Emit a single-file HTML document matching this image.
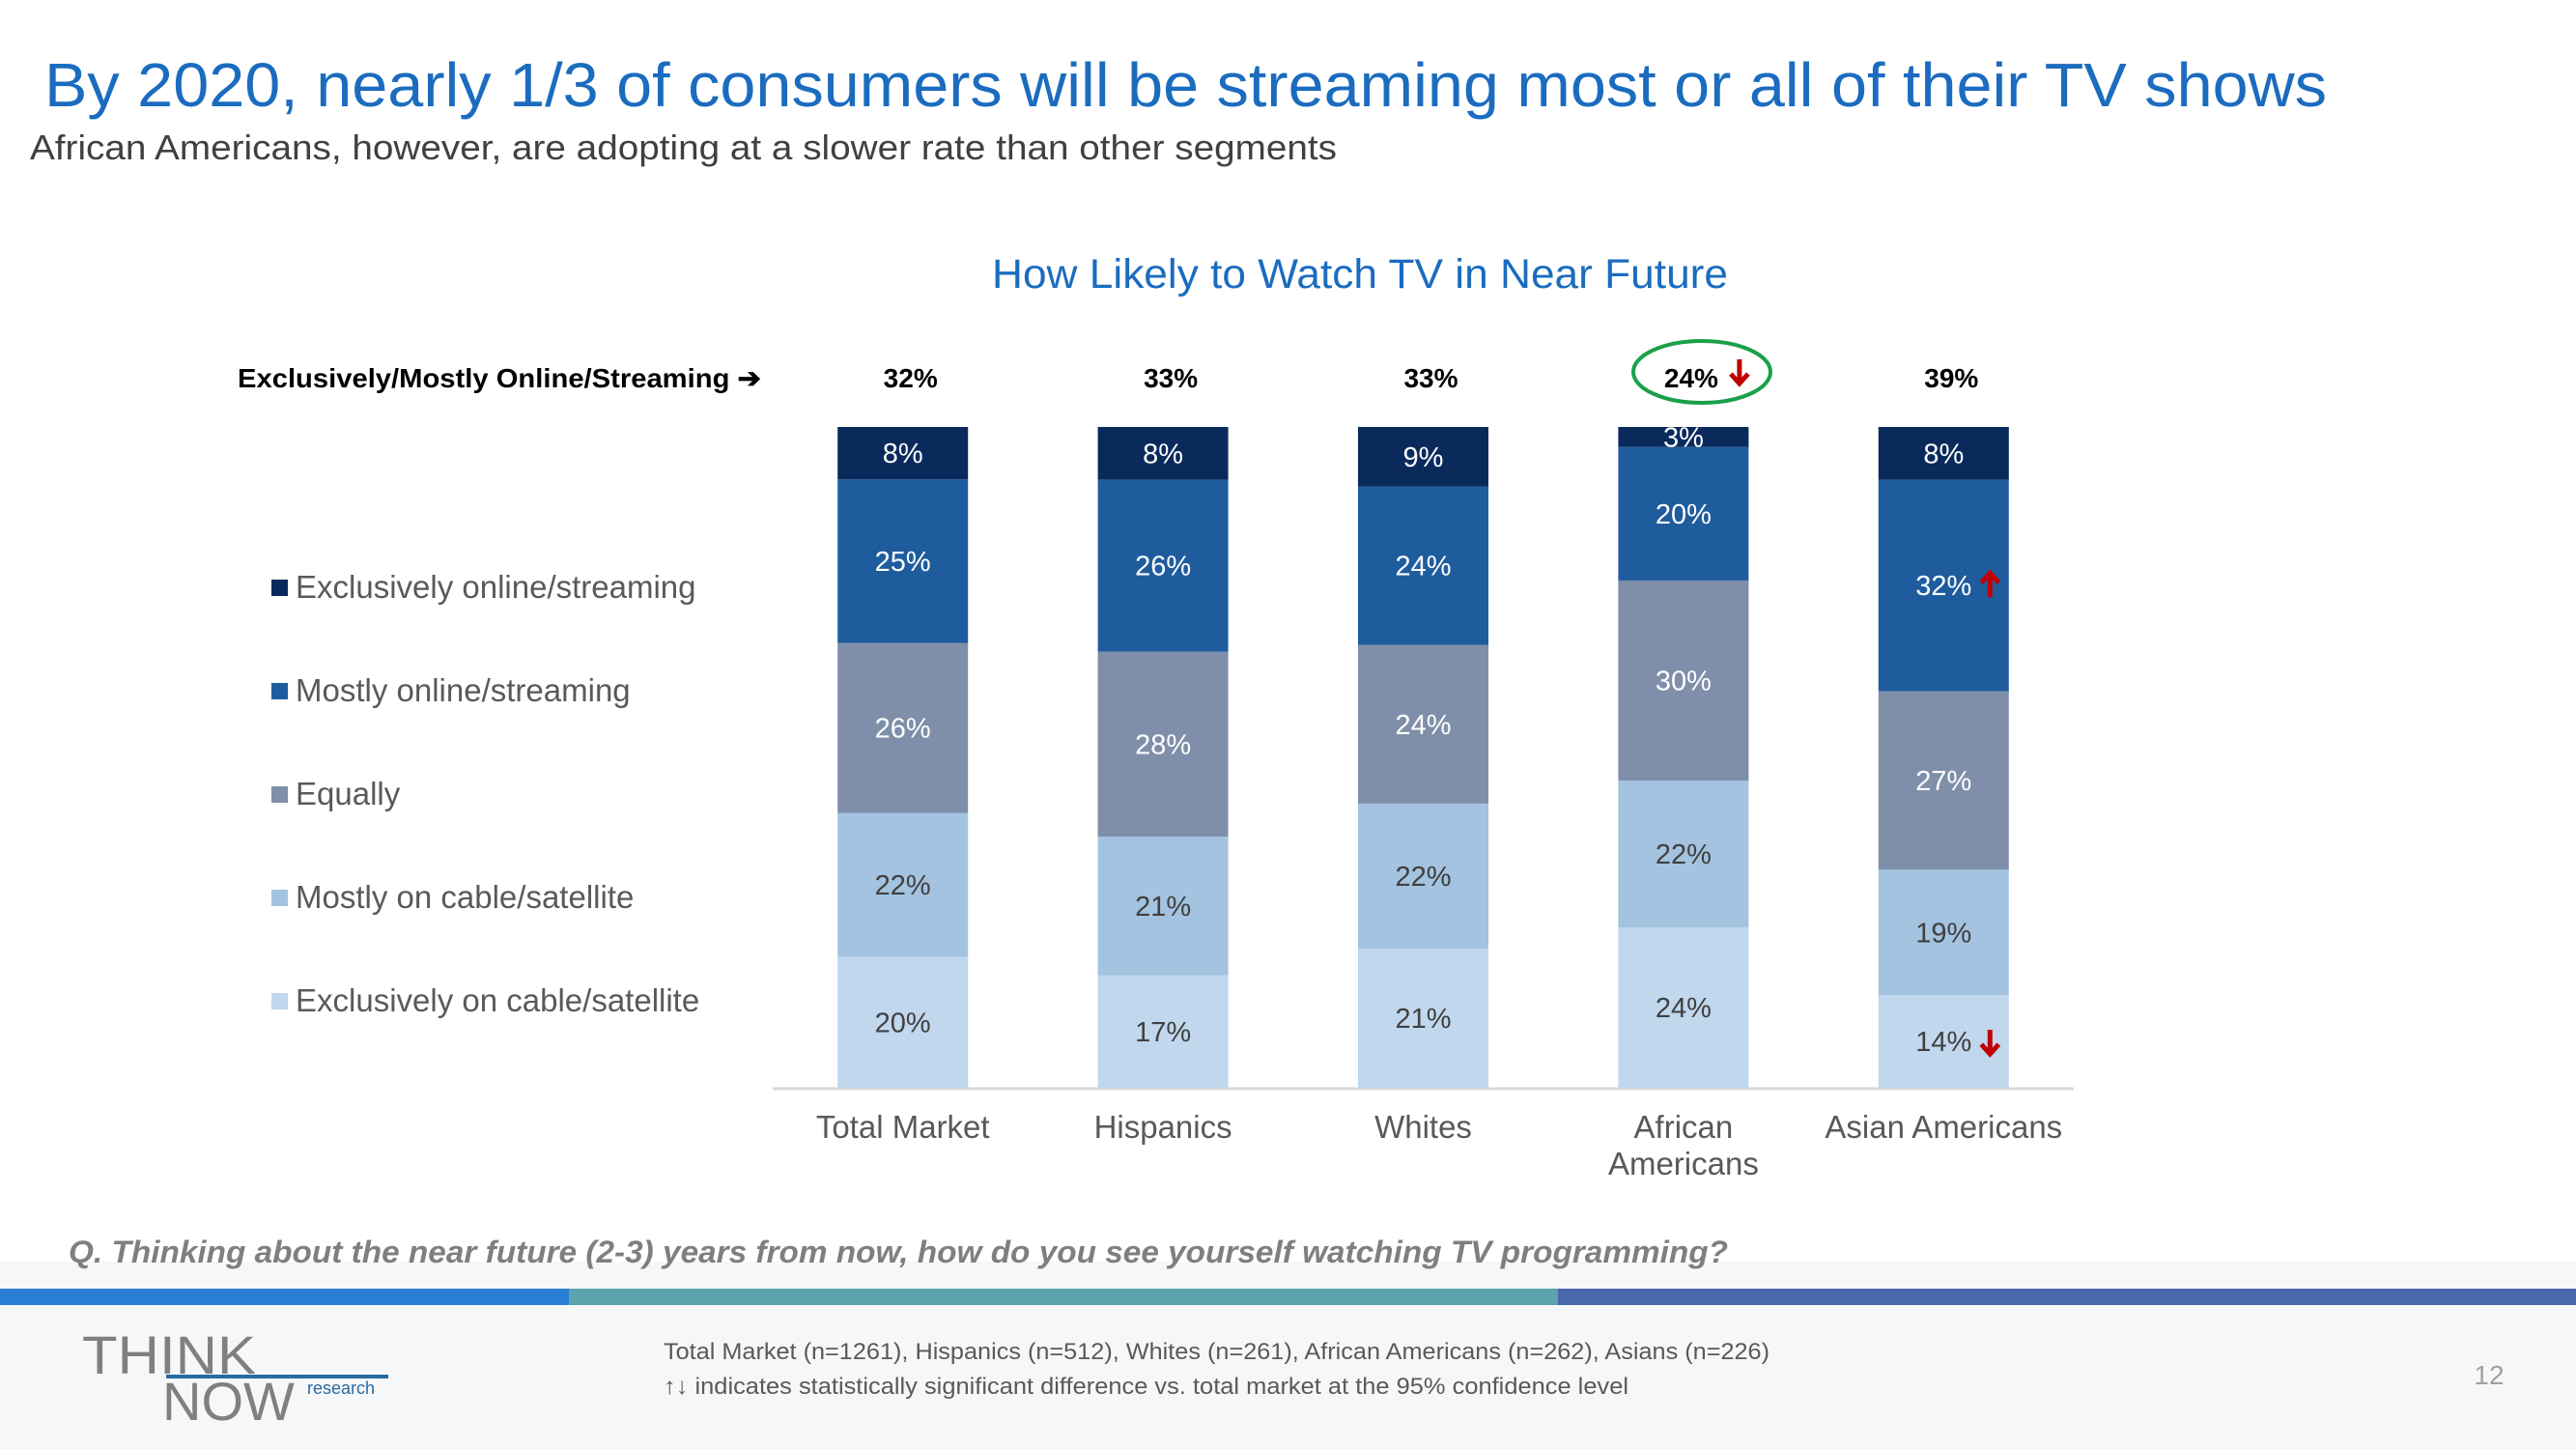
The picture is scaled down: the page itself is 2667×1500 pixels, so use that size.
<!DOCTYPE html>
<html><head><meta charset="utf-8"><style>
html,body{margin:0;padding:0;background:#fff;}
svg{display:block;font-family:"Liberation Sans",Arial,sans-serif;}
</style></head><body>
<svg id="chart" width="2667" height="1500" viewBox="0 0 2667 1500" xmlns="http://www.w3.org/2000/svg">
<rect x="0" y="1306" width="2667" height="194" fill="#f6f7f8"/>
<rect x="0" y="1334" width="589" height="17" fill="#2a7fd4"/>
<rect x="589" y="1334" width="1024" height="17" fill="#5ba3ad"/>
<rect x="1613" y="1334" width="1054" height="17" fill="#4a67ac"/>
<text x="46" y="110" font-size="64" fill="#1b6cbf" textLength="2363" lengthAdjust="spacingAndGlyphs">By 2020, nearly 1/3 of consumers will be streaming most or all of their TV shows</text>
<text x="31" y="165" font-size="36" fill="#404040" textLength="1353" lengthAdjust="spacingAndGlyphs">African Americans, however, are adopting at a slower rate than other segments</text>
<text x="1408" y="298" font-size="43" fill="#1b6cbf" text-anchor="middle" textLength="762" lengthAdjust="spacingAndGlyphs">How Likely to Watch TV in Near Future</text>
<text x="246" y="401" font-size="28" font-weight="bold" fill="#000" textLength="542" lengthAdjust="spacingAndGlyphs">Exclusively/Mostly Online/Streaming ➔</text>
<ellipse cx="1762" cy="385" rx="71" ry="32" fill="none" stroke="#1aa04a" stroke-width="4"/>
<line x1="800" y1="1127" x2="2147" y2="1127" stroke="#d9d9d9" stroke-width="3"/>
<g id="bars"></g>
<g id="legend"></g>
<text x="71" y="1307" font-size="32" font-style="italic" font-weight="bold" fill="#7f7f7f" textLength="1718" lengthAdjust="spacingAndGlyphs">Q. Thinking about the near future (2-3) years from now, how do you see yourself watching TV programming?</text>
<text x="687" y="1407" font-size="24" fill="#595959" textLength="1145" lengthAdjust="spacingAndGlyphs">Total  Market (n=1261), Hispanics (n=512), Whites (n=261), African Americans (n=262), Asians (n=226)</text>
<text x="687" y="1443" font-size="24" fill="#595959" textLength="999" lengthAdjust="spacingAndGlyphs">↑↓ indicates statistically significant difference vs. total market at the 95% confidence level</text>
<text x="2577" y="1433" font-size="28" fill="#a0a0a0" text-anchor="middle">12</text>
<g>
<text x="85" y="1422" font-size="56" fill="#808080" textLength="180" lengthAdjust="spacingAndGlyphs">THINK</text>
<line x1="172" y1="1425" x2="402" y2="1425" stroke="#2a6aa0" stroke-width="4"/>
<text x="168" y="1470" font-size="56" fill="#808080">NOW</text>
<text x="318" y="1443" font-size="18" fill="#2a6aa0">research</text>
</g>
</svg>
<script>
const categories = ["Total Market","Hispanics","Whites","African Americans","Asian Americans"];
const seriesNames = ["Exclusively on cable/satellite","Mostly on cable/satellite","Equally","Mostly online/streaming","Exclusively online/streaming"];
const exclCable = [20,17,21,24,14];
const mostlyCable = [22,21,22,22,19];
const equally = [26,28,24,30,27];
const mostlyOnline = [25,26,24,20,32];
const exclOnline = [8,8,9,3,8];
const streamingTotals = ["32%","33%","33%","24%","39%"];
const totalArrows = ["","","","down",""];
const segArrows = [["","","","",""],["","","","",""],["","","","",""],["","","","","up"],["","","","",""]];
segArrows[0][4]="down";
const series = [exclCable, mostlyCable, equally, mostlyOnline, exclOnline];
const colors = ["#c0d7ed","#a3c3e0","#7f8fa9","#1f5c9e","#0b2a5c"];
const labelColors = ["#404040","#404040","#ffffff","#ffffff","#ffffff"];
const NS="http://www.w3.org/2000/svg";
const plotLeft=800, plotRight=2147, baseY=1126, topY=442, barW=135;
const step=(plotRight-plotLeft)/categories.length;
function xCenter(i){return plotLeft+step*(i+0.5);}
function yScale(frac){return baseY-(baseY-topY)*frac;}
function mk(tag,attrs,txt){const e=document.createElementNS(NS,tag);for(const k in attrs)e.setAttribute(k,attrs[k]);if(txt!==undefined)e.textContent=txt;return e;}
const gb=document.getElementById("bars");
function arrow(x,y,dir){
  const g=mk("g",{transform:"translate("+x+","+y+")"+(dir==="up"?"":" rotate(180)"),stroke:"#c00000","stroke-width":5,fill:"none"});
  g.appendChild(mk("path",{d:"M0,-12 L0,12 M-9,-3 L0,-13 L9,-3"}));
  
  
  return g;
}
categories.forEach((c,i)=>{
  const sum=series.reduce((s,arr)=>s+arr[i],0);
  let cum=0;
  const cx=xCenter(i);
  series.forEach((arr,k)=>{
    const y0=yScale(cum/sum), y1=yScale((cum+arr[i])/sum);
    const r=mk("rect",{x:cx-barW/2,y:y1,width:barW,height:y0-y1,fill:colors[k]});
    
    
    gb.appendChild(r);
    const t=mk("text",{x:cx,y:(y0+y1)/2+10,"font-size":29,fill:labelColors[k],"text-anchor":"middle"},arr[i]+"%");
    
    
    gb.appendChild(t);
    const d=segArrows[k][i];
    if(d) gb.appendChild(arrow(cx+48,(y0+y1)/2,d));
    cum+=arr[i];
  });
  const tt=mk("text",{x:cx+8,y:401,"font-size":28,"font-weight":"bold",fill:"#000","text-anchor":"middle"},streamingTotals[i]);
  
  
  gb.appendChild(tt);
  if(totalArrows[i]) gb.appendChild(arrow(cx+58,384,totalArrows[i]));
  const words=c==="African Americans"?["African","Americans"]:[c];
  words.forEach((w,j)=>{
    const l=mk("text",{x:cx,y:1178+j*38,"font-size":33,fill:"#595959","text-anchor":"middle"},w);
    
    
    gb.appendChild(l);
  });
});
const gl=document.getElementById("legend");
for(let k=4;k>=0;k--){
  const y=619+(4-k)*107;
  const sq=mk("rect",{x:281,y:y-19,width:17,height:17,fill:colors[k]});
  
  
  gl.appendChild(sq);
  const lt=mk("text",{x:306,y:y,"font-size":33,fill:"#595959"},seriesNames[k]);
  
  
  gl.appendChild(lt);
}
</script>
</body></html>
